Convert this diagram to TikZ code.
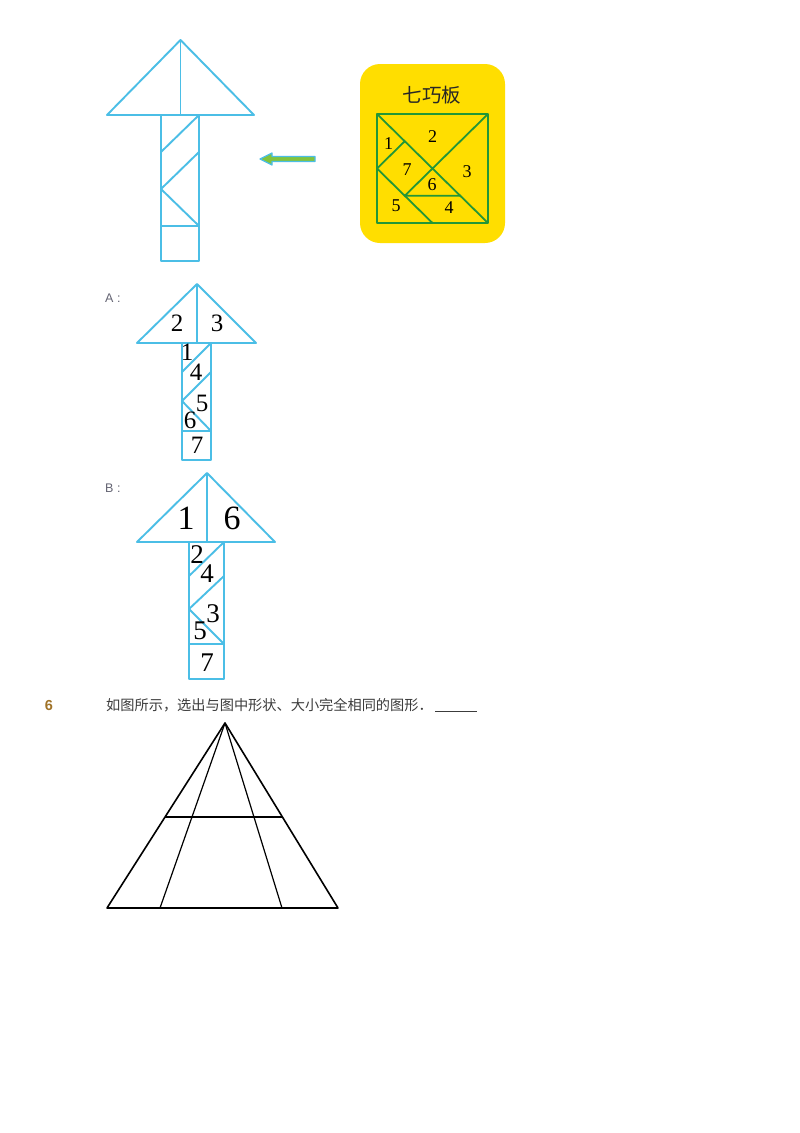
\documentclass[tikz,border=0pt]{standalone}
\usepackage{fontspec}
\setmainfont{Liberation Serif}
\newfontfamily\cjk{Noto Sans CJK SC}
\newfontfamily\sansf{Liberation Sans}
\usetikzlibrary{calc}

\definecolor{arrowblue}{RGB}{75,190,230}
\definecolor{boardgreen}{RGB}{35,150,55}
\definecolor{boardyellow}{RGB}{255,222,0}
\definecolor{pointergreen}{RGB}{130,195,60}
\definecolor{qbrown}{RGB}{160,115,40}
\definecolor{qgray}{RGB}{60,60,60}
\definecolor{labelgray}{RGB}{100,100,115}

\tikzset{
  piece/.style={draw=arrowblue, line width=1.9pt, line join=round},
  board/.style={draw=boardgreen, line width=1.8pt, line join=round},
  numboard/.style={inner sep=0pt, font=\fontsize{18}{18}\selectfont},
  numA/.style={inner sep=0pt, font=\fontsize{25}{25}\selectfont},
  numB/.style={inner sep=0pt, font=\fontsize{27}{27}\selectfont},
  numBtop/.style={inner sep=0pt, font=\fontsize{34}{34}\selectfont},
  choice/.style={anchor=west, inner sep=0pt, text=labelgray, font=\sansf\fontsize{12.5}{14}\selectfont},
}

\begin{document}
\begin{tikzpicture}[x=1pt, y=-1pt]
  \fill[white] (0,0) rectangle (800,1133);
  \useasboundingbox (0,0) rectangle (800,1133);

  % top arrow
  \draw[piece] (107,115) -- (180.5,40) -- (254,115) -- cycle;
  \draw[piece] (180.5,40) -- (180.5,115);
  \draw[piece] (161,115) rectangle (199,261);
  \draw[piece] (199,115) -- (161,152);
  \draw[piece] (199,152) -- (161,189) -- (199,226) -- (161,226);

  % pointer
  \filldraw[fill=pointergreen, draw=arrowblue, line width=1.2pt, line join=round]
    (315,156.5) -- (272,156.5) -- (272,153) -- (260,159) -- (272,165) -- (272,161.5) -- (315,161.5) -- cycle;

  % tangram board
  \fill[boardyellow, rounded corners=20pt] (360,64) rectangle (505,243);
  \node[font=\cjk\fontsize{19.5}{19.5}\selectfont, text=black!85] (title) at (432,95) {七巧板};
  \begin{scope}[shift={(377,114)}, x=111pt, y=-109pt]
    \draw[board] (0,0) rectangle (1,1);
    \draw[board] (0,0) -- (1,1);
    \draw[board] (1,0) -- (0.25,0.75) -- (0.75,0.75);
    \draw[board] (0,0.5) -- (0.25,0.25);
    \draw[board] (0,0.5) -- (0.5,1);
  \end{scope}
  \node[numboard] (t1) at (388.5,144) {1};
  \node[numboard] (t2) at (432.5,137) {2};
  \node[numboard] (t3) at (467,172) {3};
  \node[numboard] (t4) at (449,208) {4};
  \node[numboard] (t5) at (396,206) {5};
  \node[numboard] (t6) at (432,185) {6};
  \node[numboard] (t7) at (407,170) {7};

  % choice A
  \node[choice] (labA) at (105,298) {A :};
  \draw[piece] (137,343) -- (197,284) -- (256,343) -- cycle;
  \draw[piece] (197,284) -- (197,343);
  \draw[piece] (182,343) rectangle (211,460);
  \draw[piece] (211,343) -- (182,372);
  \draw[piece] (211,372) -- (182,401) -- (211,431) -- (182,431);
  \node[numA] (a2) at (177,323) {2};
  \node[numA] (a3) at (217,323) {3};
  \node[numA] (a1) at (187,352) {1};
  \node[numA] (a4) at (196,372) {4};
  \node[numA] (a5) at (202,403) {5};
  \node[numA] (a6) at (190,420) {6};
  \node[numA] (a7) at (197,445) {7};

  % choice B
  \node[choice] (labB) at (105,488) {B :};
  \draw[piece] (137,542) -- (207,473) -- (275,542) -- cycle;
  \draw[piece] (207,473) -- (207,542);
  \draw[piece] (189,542) rectangle (224,679);
  \draw[piece] (224,542) -- (189,576);
  \draw[piece] (224,576) -- (189,609) -- (224,644) -- (189,644);
  \node[numBtop] (b1) at (186,518) {1};
  \node[numBtop] (b6) at (232,518) {6};
  \node[numB] (b2) at (197,555) {2};
  \node[numB] (b4) at (207,574) {4};
  \node[numB] (b3) at (213,614) {3};
  \node[numB] (b5) at (200,631) {5};
  \node[numB] (b7) at (207,663) {7};

  % question 6
  \node[font=\sansf\bfseries\fontsize{14.5}{14.5}\selectfont, text=qbrown] (qnum) at (49,705) {6};
  \node[anchor=west, inner sep=0pt, text=qgray, font=\cjk\fontsize{14.2}{14.2}\selectfont] (qtext) at (106,705)
    {如图所示，选出与图中形状、大小完全相同的图形．\,\underline{\hspace{42pt}}};

  % triangle
  \coordinate (apex) at (225,723);
  \coordinate (bl) at (107,908);
  \coordinate (br) at (338,908);
  \draw[line width=1.6pt, line join=round] (bl) -- (apex) -- (br) -- cycle;
  \draw[line width=1.2pt] (apex) -- (160,908);
  \draw[line width=1.2pt] (apex) -- (282,908);
  \draw[line width=1.2pt] ($(apex)!0.508!(bl)$) -- ($(apex)!0.508!(br)$);
\end{tikzpicture}
\end{document}
